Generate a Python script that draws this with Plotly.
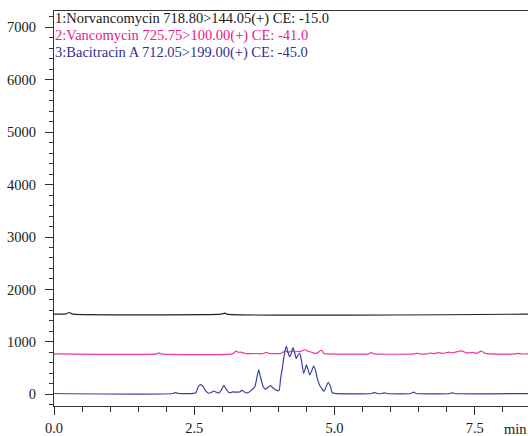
import plotly.graph_objects as go

# ---- data ----
norv_t = [0.0, 0.20, 0.24, 0.27, 0.30, 0.34, 2.98, 3.02, 3.05, 3.08, 8.46]
norv_v = [1530, 1530, 1545, 1560, 1545, 1530, 1530, 1540, 1548, 1530, 1530]

vanc_t = [0.0, 1.82, 1.87, 1.92, 3.18, 3.21, 3.25, 3.29, 3.33, 3.37, 3.43, 3.60, 3.70,
          3.75, 3.79, 3.84, 3.95, 4.05, 4.10, 4.13, 4.17, 4.22, 4.26, 4.30, 4.35, 4.40,
          4.44, 4.48, 4.52, 4.57, 4.63, 4.70, 4.74, 4.77, 4.81, 4.85, 5.60, 5.66, 5.71,
          6.42, 6.47, 6.52, 6.65, 6.70, 6.78, 6.85, 6.93, 6.98, 7.04, 7.10, 7.18, 7.26,
          7.34, 7.41, 7.47, 7.53, 7.62, 7.69, 7.76, 8.22, 8.27, 8.32, 8.46]
vanc_v = [770, 770, 790, 770, 772, 795, 825, 800, 805, 790, 775, 778, 772,
          785, 798, 778, 775, 780, 810, 830, 800, 818, 835, 812, 820, 815,
          840, 850, 825, 812, 785, 790, 830, 840, 780, 772, 772, 795, 772,
          772, 785, 772, 772, 785, 775, 795, 780, 790, 805, 790, 810, 830,
          795, 790, 800, 780, 825, 780, 770, 770, 782, 770, 770]

baci_t = [0.0, 2.12, 2.17, 2.22, 2.48, 2.53, 2.57, 2.61, 2.66, 2.70, 2.76, 2.81, 2.85,
          2.91, 2.95, 2.99, 3.03, 3.07, 3.12, 3.19, 3.26, 3.31, 3.35, 3.40, 3.46, 3.52,
          3.58, 3.62, 3.65, 3.68, 3.73, 3.77, 3.81, 3.86, 3.90, 3.96, 4.01, 4.04, 4.07,
          4.10, 4.14, 4.17, 4.20, 4.23, 4.26, 4.29, 4.32, 4.35, 4.38, 4.42, 4.45, 4.48,
          4.50, 4.53, 4.56, 4.60, 4.63, 4.66, 4.70, 4.74, 4.77, 4.81, 4.84, 4.89, 4.93,
          4.96, 5.00, 5.66, 5.71, 5.76, 5.85, 5.89, 5.93, 6.36, 6.41, 6.46, 7.06, 7.10,
          7.14, 8.46]
baci_v = [15, 15, 35, 15, 18, 30, 145, 185, 145, 70, 20, 38, 63,
          30, 30, 95, 170, 95, 30, 45, 40, 45, 75, 40, 30, 80,
          145, 335, 465, 335, 145, 100, 130, 165, 125, 80, 70, 305, 495,
          720, 920, 810, 720, 780, 890, 790, 685, 750, 780, 590, 400, 495,
          560, 465, 370, 465, 540, 465, 275, 165, 115, 60, 115, 230, 145,
          30, 18, 15, 35, 15, 15, 30, 15, 15, 40, 15, 15, 30,
          15, 15]

labels = ["1:Norvancomycin 718.80>144.05(+) CE: -15.0",
          "2:Vancomycin 725.75>100.00(+) CE: -41.0",
          "3:Bacitracin A 712.05>199.00(+) CE: -45.0"]
label_colors = ["#1a1a1a", "#e8198b", "#2e3192"]
line_colors = ["#222222", "#f0399a", "#3a41a0"]

x_ticks = [0.0, 2.5, 5.0, 7.5]
y_ticks = [0, 1000, 2000, 3000, 4000, 5000, 6000, 7000]

SERIF = "Liberation Serif, Times New Roman, serif"
TICKFONT = dict(family=SERIF, size=14.5, color="#1a1a1a")

fig = go.Figure()
for t, v, c in [(norv_t, norv_v, line_colors[0]),
                (vanc_t, vanc_v, line_colors[1]),
                (baci_t, baci_v, line_colors[2])]:
    fig.add_trace(go.Scatter(x=t, y=v, mode="lines",
                             line=dict(color=c, width=1.2, shape="spline", smoothing=0.6),
                             showlegend=False, hoverinfo="skip"))

for i, (txt, col) in enumerate(zip(labels, label_colors)):
    fig.add_annotation(x=0, y=[0.980, 0.938, 0.896][i], xref="paper", yref="paper",
                       xanchor="left", yanchor="middle", text=txt, showarrow=False,
                       font=dict(family=SERIF, size=14.5, color=col), xshift=-1)

fig.add_annotation(x=1, y=0, xref="paper", yref="paper", xanchor="right", yanchor="top",
                   text="min", showarrow=False, yshift=-13, xshift=1,
                   font=dict(family=SERIF, size=14.5, color="#1a1a1a"))

fig.update_layout(
    width=528, height=436,
    margin=dict(l=54, r=0, t=11, b=30, autoexpand=False),
    paper_bgcolor="white", plot_bgcolor="white",
    font=dict(family=SERIF, size=14.5, color="#1a1a1a"),
)
fig.update_xaxes(range=[0, 8.45], tickvals=x_ticks, ticktext=[f"{v:.1f}" for v in x_ticks],
                 automargin=False, tickfont=TICKFONT,
                 showline=True, linecolor="#333333", linewidth=1.2, mirror=True,
                 ticks="outside", ticklen=8, tickcolor="#333333", tickwidth=1,
                 showgrid=False, zeroline=False,
                 minor=dict(dtick=0.5, tick0=0, ticks="outside", ticklen=5,
                            tickcolor="#333333", showgrid=False))
fig.update_yaxes(range=[-223, 7311], tickvals=y_ticks, ticktext=[str(v) for v in y_ticks],
                 automargin=False, tickfont=TICKFONT,
                 showline=True, linecolor="#333333", linewidth=1.2,
                 ticks="outside", ticklen=8, tickcolor="#333333", tickwidth=1,
                 showgrid=False, zeroline=False, ticklabelstandoff=6,
                 minor=dict(dtick=200, tick0=0, ticks="outside", ticklen=4,
                            tickcolor="#333333", showgrid=False))

fig.write_html("out.html", config={"displayModeBar": False},
               post_script="document.body.style.margin='0';")
